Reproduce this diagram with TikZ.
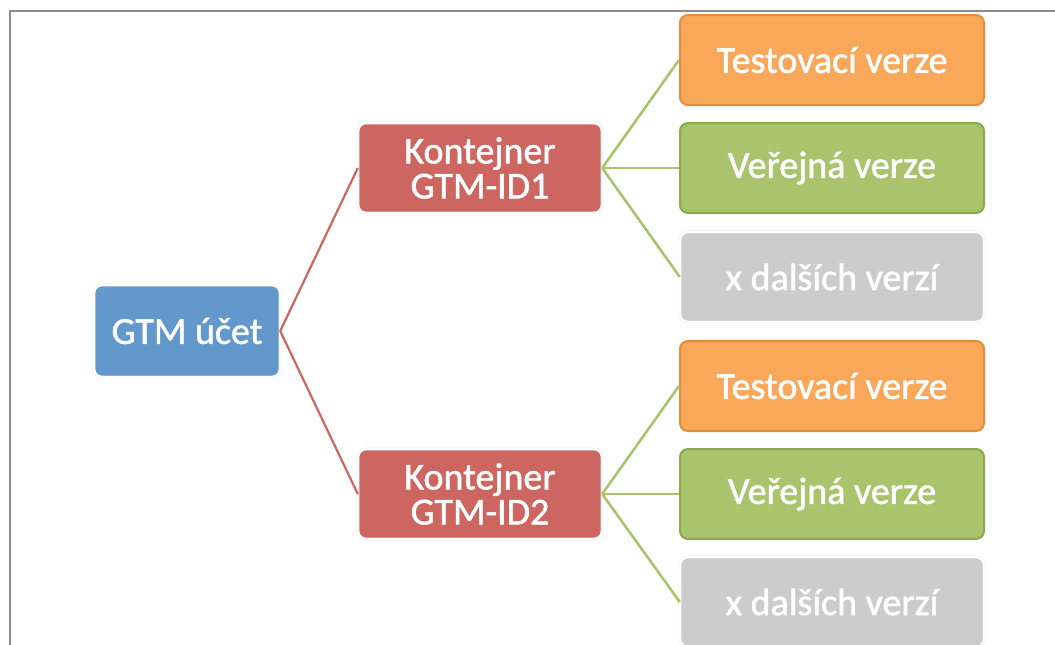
\documentclass[tikz,border=0pt]{standalone}
\usepackage{fontspec}
\setmainfont{Carlito}
\newfontfamily\boxfont{Carlito}[FakeBold=1.3]
\usepackage{xcolor}
\usetikzlibrary{arrows.meta}
\definecolor{ucetblue}{RGB}{99,152,205}
\definecolor{kontred}{RGB}{205,102,96}
\definecolor{testorange}{RGB}{249,168,90}
\definecolor{testorangeb}{RGB}{226,140,58}
\definecolor{vergreen}{RGB}{169,196,108}
\definecolor{vergreenb}{RGB}{138,168,76}
\definecolor{dalgray}{RGB}{204,204,204}
\definecolor{framegray}{RGB}{140,140,140}
\tikzset{
  box/.style={
    rounded corners=8pt,
    text=white,
    align=center,
    font=\boxfont\fontsize{38}{35}\selectfont,
    inner sep=0pt,
  },
  outline white/.style={
    draw=black!10,
    double=white,
    double distance=2pt,
  },
  style ucet/.style={box, outline white, fill=ucetblue,
    minimum width=186pt, minimum height=92pt},
  style kont/.style={box, outline white, fill=kontred,
    minimum width=244pt, minimum height=90pt},
  style test/.style={box, fill=testorange, draw=testorangeb, line width=2pt,
    minimum width=304pt, minimum height=90pt},
  style ver/.style={box, fill=vergreen, draw=vergreenb, line width=2pt,
    minimum width=304pt, minimum height=90pt},
  style dal/.style={box, outline white, fill=dalgray,
    minimum width=304pt, minimum height=90pt},
  red link/.style={draw=kontred, line width=2.2pt},
  green link/.style={draw=vergreen, line width=2.6pt}
}

\begin{document}
\begin{tikzpicture}[x=1pt,y=-1pt]
                \useasboundingbox (0,0) rectangle (1055,645);
                \draw [framegray, line width=2.6pt] (10,650) -- (10,11) -- (1060,11);
                \node [style ucet] (ucet) at (187,331) {GTM účet};
                \node [style kont] (kont1) at (480,168) {Kontejner\\GTM-ID1};
                \node [style kont] (kont2) at (480,494) {Kontejner\\GTM-ID2};
                \node [style test] (test1) at (832,60) {Testovací verze};
                \node [style ver] (ver1) at (832,168) {Veřejná verze};
                \node [style dal] (dal1) at (832,277) {x dalších verzí};
                \node [style test] (test2) at (832,386) {Testovací verze};
                \node [style ver] (ver2) at (832,494) {Veřejná verze};
                \node [style dal] (dal2) at (832,602) {x dalších verzí};
                \begin{scope}
                    \path [red link] (ucet.east) -- (kont1.west);
                    \path [red link] (ucet.east) -- (kont2.west);
                    \path [green link] (kont1.east) -- (test1.west);
                    \path [green link] (kont1.east) -- (ver1.west);
                    \path [green link] (kont1.east) -- (dal1.west);
                    \path [green link] (kont2.east) -- (test2.west);
                    \path [green link] (kont2.east) -- (ver2.west);
                    \path [green link] (kont2.east) -- (dal2.west);
                \end{scope}
            \end{tikzpicture}
\end{document}
